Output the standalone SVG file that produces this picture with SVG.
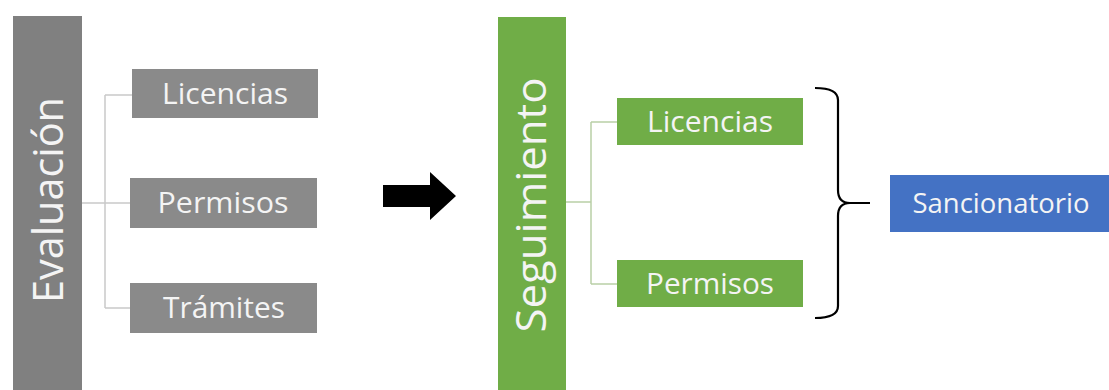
<svg xmlns="http://www.w3.org/2000/svg" width="1109" height="390" viewBox="0 0 1109 390">
<style>
.lbl{font-family:"Open Sans","Liberation Sans",sans-serif;fill:#f4f4f4;text-anchor:middle}
.big{font-size:42px}
.sm{font-size:29px}
.gray{fill:#8a8a8a}
.green{fill:#70ad47}
.conn{fill:none;stroke-width:1.5}
</style>
<rect width="1109" height="390" fill="#ffffff"/>
<g id="connectors">
<path class="conn" stroke="#c9c9c9" d="M82,203 H105 M105,95 V308 M105,95 H132 M105,203 H131 M105,308 H131"/>
<path class="conn" stroke="#b9cfa6" d="M566,202 H591 M591,122 V284 M591,122 H617 M591,284 H617"/>
<path id="bigArrow" d="M383,185 H430 V172 L456,196 L430,220 V207 H383 Z" fill="#000000"/>
<path id="brace" d="M815,88 Q838,88 838,100 V190 Q838,203 850,203 H870 M850,203 Q838,203 838,216 V306 Q838,318 815,318" fill="none" stroke="#000000" stroke-width="2.2"/>
</g>
<g id="evaluacion">
<rect x="13" y="16" width="69" height="374" fill="#808080"/>
<text class="lbl big" x="63" y="200" transform="rotate(-90 63 200)" textLength="206" lengthAdjust="spacingAndGlyphs">Evaluación</text>
</g>
<g id="eval-licencias">
<rect class="gray" x="132" y="69" width="186" height="49"/>
<text class="lbl sm" x="225" y="104" textLength="126" lengthAdjust="spacingAndGlyphs">Licencias</text>
</g>
<g id="eval-permisos">
<rect class="gray" x="130" y="178" width="187" height="50"/>
<text class="lbl sm" x="223" y="213" textLength="131" lengthAdjust="spacingAndGlyphs">Permisos</text>
</g>
<g id="eval-tramites">
<rect class="gray" x="130" y="283" width="187" height="50"/>
<text class="lbl sm" x="224" y="318" textLength="122" lengthAdjust="spacingAndGlyphs">Trámites</text>
</g>
<g id="seguimiento">
<rect class="green" x="498" y="17" width="68" height="373"/>
<text class="lbl big" x="546" y="205" transform="rotate(-90 546 205)" textLength="255" lengthAdjust="spacingAndGlyphs">Seguimiento</text>
</g>
<g id="seg-licencias">
<rect class="green" x="617" y="98" width="186" height="47"/>
<text class="lbl sm" x="710" y="132" textLength="126" lengthAdjust="spacingAndGlyphs">Licencias</text>
</g>
<g id="seg-permisos">
<rect class="green" x="617" y="260" width="186" height="47"/>
<text class="lbl sm" x="710" y="294" textLength="128" lengthAdjust="spacingAndGlyphs">Permisos</text>
</g>
<g id="sancionatorio">
<rect x="890" y="175" width="219" height="57" fill="#4472c4"/>
<text class="lbl" x="1001" y="213" font-size="27" textLength="177" lengthAdjust="spacingAndGlyphs">Sancionatorio</text>
</g>
</svg>
